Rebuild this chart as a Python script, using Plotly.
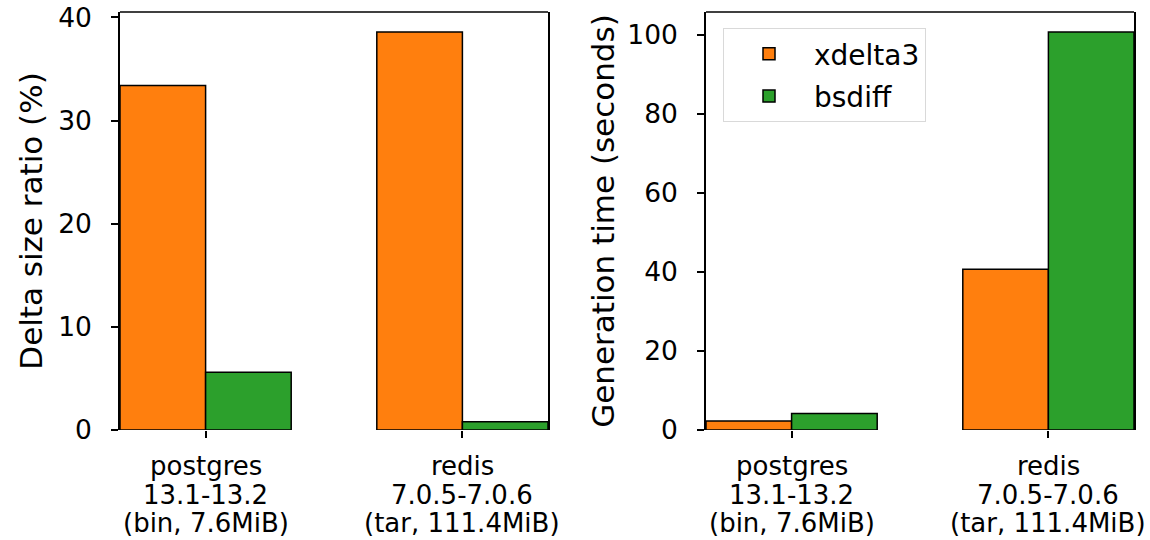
import plotly.graph_objects as go

category_lines = [
    ["postgres", "13.1-13.2", "(bin, 7.6MiB)"],
    ["redis", "7.0.5-7.0.6", "(tar, 111.4MiB)"],
]
categories = ["<br>".join(c) for c in category_lines]
series_names = ["xdelta3", "bsdiff"]
colors = ["#ff7f0e", "#2ca02c"]
size_ratio = {"xdelta3": [33.4, 38.6], "bsdiff": [5.6, 0.8]}
gen_time = {"xdelta3": [2.3, 40.7], "bsdiff": [4.2, 100.8]}
y_titles = ["Delta size ratio (%)", "Generation time (seconds)"]

FONT = "DejaVu Sans"
TICK_FS = 26.5
CAT_FS = 26
TITLE_FS = 31
LEG_FS = 28

fig = go.Figure()
for i, name in enumerate(series_names):
    fig.add_trace(go.Bar(x=categories, y=size_ratio[name], name=name, marker_color=colors[i],
                         marker_line=dict(color="black", width=1.5), xaxis="x", yaxis="y",
                         legendgroup=name, showlegend=False))
    fig.add_trace(go.Bar(x=categories, y=gen_time[name], name=name, marker_color=colors[i],
                         marker_line=dict(color="black", width=1.5), xaxis="x2", yaxis="y2",
                         legendgroup=name, showlegend=True))

ymax1 = max(max(v) for v in size_ratio.values()) * 1.05
ymax2 = max(max(v) for v in gen_time.values()) * 1.05

W, H = 1150, 540
ydom = [(H - 430) / H, (H - 12) / H]

xcommon = dict(type="category", range=[-1/3, 1 + 1/3], showline=False, showgrid=False,
               zeroline=False, ticks="outside", ticklen=7, tickwidth=1.5, tickcolor="black",
               showticklabels=False, automargin=False)
ycommon = dict(showline=True, mirror=True, linecolor="black", linewidth=1.5, showgrid=False,
               zeroline=False, ticks="outside", ticklen=7, tickwidth=1.5, tickcolor="black",
               tickfont=dict(family=FONT, size=TICK_FS, color="black"), ticklabelstandoff=14,
               domain=ydom, automargin=False)

# multi-line category labels below each axis (tight matplotlib-like line spacing)
annotations = []
line_y_px = [466, 494.5, 522.5]
for xref in ["x", "x2"]:
    for cat, lines in zip(categories, category_lines):
        for ly, txt in zip(line_y_px, lines):
            annotations.append(dict(x=cat, xref=xref, y=1 - ly / H, yref="paper",
                                    text=txt, showarrow=False, xanchor="center",
                                    yanchor="middle", borderpad=0,
                                    font=dict(family=FONT, size=CAT_FS, color="black")))

fig.update_layout(
    width=W, height=H,
    margin=dict(l=0, r=0, t=0, b=0, autoexpand=False),
    paper_bgcolor="white", plot_bgcolor="white",
    barmode="group", bargap=1/3, bargroupgap=0,
    font=dict(family=FONT, size=TICK_FS, color="black"),
    xaxis=dict(domain=[120 / W, 548 / W], anchor="y", **xcommon),
    xaxis2=dict(domain=[706 / W, 1134 / W], anchor="y2", **xcommon),
    yaxis=dict(anchor="x", range=[0, ymax1], dtick=10,
               title=dict(text=y_titles[0], font=dict(family=FONT, size=TITLE_FS), standoff=6),
               **ycommon),
    yaxis2=dict(anchor="x2", range=[0, ymax2], dtick=20,
                title=dict(text=y_titles[1], font=dict(family=FONT, size=TITLE_FS), standoff=4),
                **ycommon),
    legend=dict(x=723 / W, y=1 - 28 / H, xanchor="left", yanchor="top",
                bgcolor="white", bordercolor="#d9d9d9", borderwidth=1,
                font=dict(family=FONT, size=LEG_FS, color="black"),
                itemwidth=80, tracegroupgap=3),
    annotations=annotations,
    shapes=[
        dict(type="line", xref="x domain", yref="y domain", x0=0, x1=1, y0=1, y1=1,
             line=dict(color="black", width=1.5)),
        dict(type="line", xref="x2 domain", yref="y2 domain", x0=0, x1=1, y0=1, y1=1,
             line=dict(color="black", width=1.5)),
    ],
)

fig.write_html("out.html")
